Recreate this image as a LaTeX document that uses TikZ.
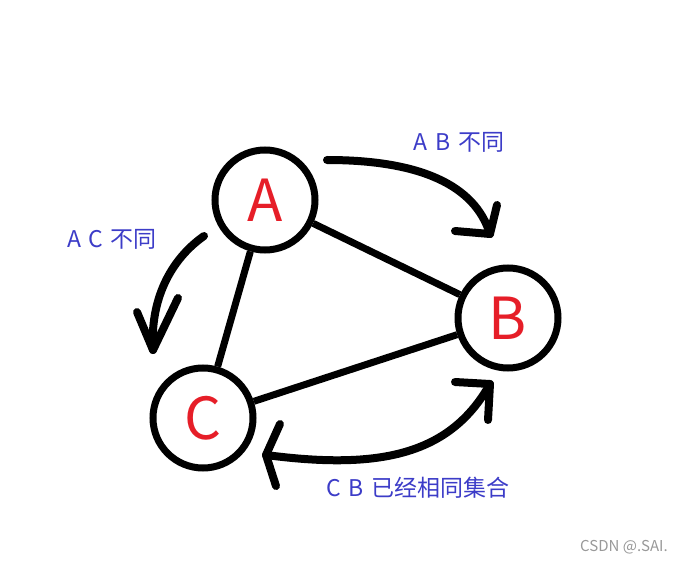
\documentclass[tikz,border=0pt]{standalone}
\usepackage{fontspec}
\setmainfont{Noto Sans CJK SC}
\newfontfamily\cjk{Noto Sans CJK SC}
\definecolor{lblue}{RGB}{60,60,200}
\definecolor{lred}{RGB}{230,30,40}
\begin{document}
\begin{tikzpicture}[x=1pt,y=-1pt,
  vert/.style={circle,draw=black,line width=7pt,minimum size=100pt,inner sep=0pt,text=lred,font=\fontsize{58}{58}\selectfont},
  edge/.style={line width=7pt},
  stroke/.style={line width=8pt,line cap=round,line join=round},
  lbl/.style={text=lblue,font=\cjk\fontsize{23}{23}\selectfont}]
\useasboundingbox[fill=white] (0,0) rectangle (696,564);
\node[vert] (A) at (265,200) {A};
\node[vert] (B) at (508,318) {B};
\node[vert] (C) at (203,418) {C};
\draw[edge] (A) -- (B);
\draw[edge] (A) -- (C);
\draw[edge] (C) -- (B);
% AB arrow
\coordinate (ab1) at (327,160);
\coordinate (ab2) at (490,234);
\draw[stroke] (ab1) .. controls (420,160) and (475,185) .. (ab2);
\draw[stroke] (455,231) -- (ab2) -- (497,205);
% AC arrow
\coordinate (ac1) at (204,236);
\coordinate (ac2) at (153,350);
\draw[stroke] (ac1) .. controls (170,260) and (150,300) .. (ac2);
\draw[stroke] (137,312) -- (ac2) -- (178,298);
% CB arrow
\coordinate (cb1) at (266,455);
\coordinate (cb2) at (490,384);
\draw[stroke] (cb1) .. controls (380,470) and (450,455) .. (cb2);
\draw[stroke] (280,424) -- (cb1) -- (276,486);
\draw[stroke] (455,382) -- (cb2) -- (488,420);
\node[lbl] (t1) at (459,142) {A\,\,B\,\,不同};
\node[lbl] (t2) at (112,239) {A\,\,C\,\,不同};
\node[lbl] (t3) at (418,488) {C\,\,B\,\,已经相同集合};
\node[text=gray!80,font=\cjk\fontsize{15}{15}\selectfont] (wm) at (624,547) {CSDN @.SAI.};
\end{tikzpicture}
\end{document}
